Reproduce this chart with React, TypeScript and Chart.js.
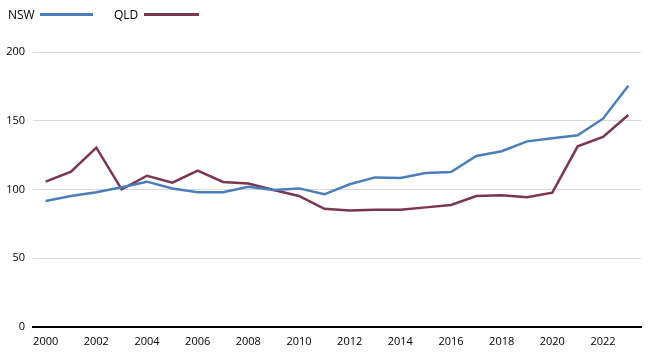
import React, { useEffect, useRef } from "react";
import { Chart, registerables } from "chart.js";

Chart.register(...registerables);

const years = ["2000","2001","2002","2003","2004","2005","2006","2007","2008","2009","2010","2011","2012","2013","2014","2015","2016","2017","2018","2019","2020","2021","2022","2023"];
const nsw = [91.6,95.2,98,101.6,105.7,100.8,98,98,102,99.6,100.8,96.5,103.8,108.8,108.4,112,112.7,124.4,127.8,135,137.2,139.4,151.5,175.5];
const qld = [105.7,113,130.4,100.1,110,105,113.7,105.5,104.3,99.6,95.3,86,84.8,85.3,85.3,87,88.7,95.3,95.8,94.3,97.7,131.4,138.2,154.2];
const yTicks = [0, 50, 100, 150, 200];

const NSW_COLOR = "#4a7ebb";
const QLD_COLOR = "#7a3550";
const FONT = "'Open Sans', sans-serif";

export default function App() {
  const ref = useRef<HTMLCanvasElement | null>(null);

  useEffect(() => {
    document.body.style.margin = "0";
    const ctx = ref.current!;
    const chart = new Chart(ctx, {
      type: "line",
      data: {
        labels: years,
        datasets: [
          { label: "NSW", data: nsw, borderColor: NSW_COLOR, backgroundColor: NSW_COLOR, borderWidth: 2.5, pointRadius: 0, tension: 0 },
          { label: "QLD", data: qld, borderColor: QLD_COLOR, backgroundColor: QLD_COLOR, borderWidth: 2.5, pointRadius: 0, tension: 0 },
        ],
      },
      options: {
        animation: false,
        responsive: false,
        layout: { padding: { top: 52, right: 9, bottom: 0, left: 0 } },
        plugins: { legend: { display: false }, tooltip: { enabled: false } },
        scales: {
          x: {
            offset: true,
            grid: { display: false, drawTicks: false },
            border: { display: true, color: "#000", width: 2 },
            ticks: {
              autoSkip: false,
              maxRotation: 0,
              padding: 8,
              color: "#000",
              font: { family: FONT, size: 11 },
              callback: (v: any, i: number) => (i % 2 === 0 ? years[i] : ""),
            },
            afterFit: (s: any) => { s.height = 30; },
          },
          y: {
            min: 0,
            max: 200,
            afterBuildTicks: (s: any) => { s.ticks = yTicks.map((v) => ({ value: v })); },
            grid: {
              color: (c: any) => (c.tick && c.tick.value === 0 ? "rgba(0,0,0,0)" : "#d9d9d9"),
              lineWidth: 1,
              drawTicks: false,
            },
            border: { display: false },
            ticks: { padding: 8, color: "#000", font: { family: FONT, size: 11 } },
            afterFit: (s: any) => { s.width = 33; },
          },
        },
      },
    });
    return () => chart.destroy();
  }, []);

  const textStyle: React.CSSProperties = { fontFamily: FONT, fontSize: 12, color: "#000", position: "absolute", top: 6 };
  return (
    <div style={{ position: "relative", width: 650, height: 357 }}>
      <canvas ref={ref} width={650} height={357} style={{ display: "block" }} />
      <span style={{ ...textStyle, left: 8 }}>NSW</span>
      <div style={{ position: "absolute", left: 40, top: 13, width: 53, height: 2.5, background: NSW_COLOR }} />
      <span style={{ ...textStyle, left: 114 }}>QLD</span>
      <div style={{ position: "absolute", left: 144, top: 13, width: 55, height: 2.5, background: QLD_COLOR }} />
    </div>
  );
}
